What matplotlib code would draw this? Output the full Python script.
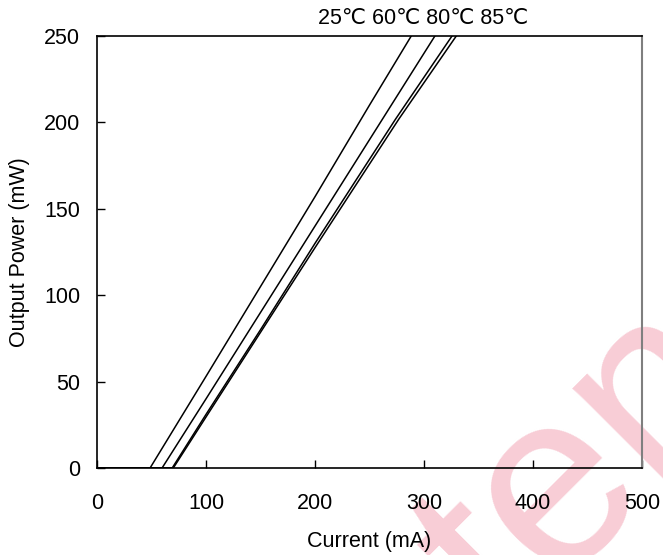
import numpy as np
import matplotlib
matplotlib.use("Agg")
import matplotlib.pyplot as plt

plt.rcParams['font.family'] = ['Liberation Sans', 'DejaVu Sans']

# L-I curves (current mA, power mW)
temps = ['25', '60', '80', '85']
i_25 = [0, 48.7, 100, 150, 200, 250, 295]
p_25 = [0, 0, 53, 105, 157, 210, 257]
i_60 = [0, 59.7, 100, 150, 200, 260, 315]
p_60 = [0, 0, 40, 90, 140, 200, 255]
i_80 = [0, 69, 100, 150, 200, 274, 330]
p_80 = [0, 0, 31, 80, 130, 202, 254]
i_85 = [0, 70, 100, 150, 200, 277, 334]
p_85 = [0, 0, 29.5, 78.5, 127.5, 202, 254]

x_ticks = [0, 100, 200, 300, 400, 500]
y_ticks = [0, 50, 100, 150, 200, 250]

fig = plt.figure(figsize=(6.63, 5.55), dpi=100)
ax = fig.add_axes([97 / 663, 1 - 468 / 555, 545 / 663, 432 / 555])
ax.patch.set_visible(False)

for xs, ys in [(i_25, p_25), (i_60, p_60), (i_80, p_80), (i_85, p_85)]:
    ax.plot(xs, ys, color='black', lw=1.1)

ax.set_xlim(0, 500)
ax.set_ylim(0, 250)
ax.set_xticks(x_ticks)
ax.set_yticks(y_ticks)
ax.tick_params(axis='both', direction='in', length=6, width=1, labelsize=15.5)
ax.tick_params(axis='x', pad=18)
ax.tick_params(axis='y', pad=12)
ax.spines['right'].set_color('#7f7f7f')
ax.spines['right'].set_linewidth(1.5)
for s in ['left', 'bottom', 'top']:
    ax.spines[s].set_linewidth(1.2)

ax.set_xlabel('Current (mA)', fontsize=15.5, labelpad=12)
ax.set_ylabel('Output Power (mW)', fontsize=15.5, labelpad=10)

fig.text(423 / 663, 1 - 18 / 555, ' '.join(t + '\u2103' for t in temps),
         ha='center', va='center', fontsize=15.5)

# watermark, runs off the bottom right corner like in the source
fig.text(0.765, -0.15, 'tena', rotation=45, fontsize=180, color='#f8cdd6',
         ha='left', va='baseline', rotation_mode='anchor', zorder=-5)

fig.savefig('out.png', dpi=100)
